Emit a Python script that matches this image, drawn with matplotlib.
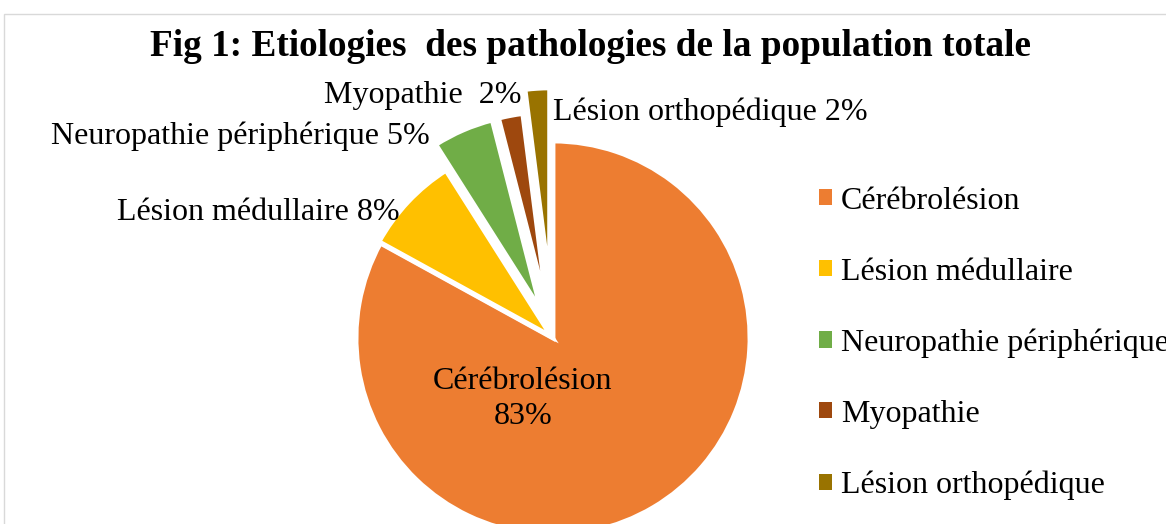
import matplotlib
matplotlib.use("Agg")
import matplotlib.pyplot as plt
from matplotlib.patches import Rectangle

plt.rcParams['font.family'] = ['Liberation Serif', 'DejaVu Serif']

# data
categories = ['Cérébrolésion', 'Lésion médullaire', 'Neuropathie périphérique',
              'Myopathie', 'Lésion orthopédique']
percent = [83, 8, 5, 2, 2]
colors = ['#ED7D31', '#FFC000', '#70AD47', '#9E480E', '#997300']
explode = [0.0, 0.01, 0.15, 0.15, 0.27]  # fraction of radius
title = 'Fig 1: Etiologies  des pathologies de la population totale'

W, H = 1166, 524
fig = plt.figure(figsize=(W / 100, H / 100), dpi=100)
ax = fig.add_axes([0, 0, 1, 1])

# pie in pixel units (y up)
cx, cy, R = 553, H - 338, 197
wedges, _ = ax.pie(percent, colors=colors, explode=[e * R for e in explode],
                   startangle=90, counterclock=False, center=(cx, cy), radius=R,
                   wedgeprops=dict(edgecolor='white', linewidth=3.5))
ax.set_xlim(0, W)
ax.set_ylim(0, H)
ax.set_aspect('auto')
ax.axis('off')

fs = 23
# data labels (anchor x, y in pixels from top, alignment)
label_pos = [(523, 399, 'center'), (400, 213, 'right'), (430, 136, 'right'),
             (522, 95, 'right'), (553, 112, 'left')]
for i, (x, y, ha) in enumerate(label_pos):
    name = categories[i]
    if i == 0:
        txt = name + '\n' + str(percent[i]) + '%'
    elif i == 3:
        txt = name + '  ' + str(percent[i]) + '%'
    else:
        txt = name + ' ' + str(percent[i]) + '%'
    ax.text(x, H - y, txt, ha=ha, va='center', fontsize=fs,
            linespacing=1.25, color='black')

# legend
handles = [Rectangle((0, 0), 1, 1, facecolor=c, edgecolor='none') for c in colors]
fig.legend(handles, categories, loc='upper left', bbox_to_anchor=(806 / W, 1 - 174 / H),
           frameon=False, fontsize=fs, handlelength=0.4, handleheight=0.4,
           handletextpad=0.3, labelspacing=1.31, borderaxespad=0)

# title
fig.text(591 / W, 1 - 46 / H, title, ha='center', va='center', fontsize=26.8,
         fontweight='bold')

# chart frame
fig.patches.append(Rectangle((4 / W, -0.1), 1.2, 1 - 14 / H + 0.1,
                             transform=fig.transFigure, facecolor='none',
                             edgecolor='#D9D9D9', linewidth=1))

fig.savefig('out.png', dpi=100)
